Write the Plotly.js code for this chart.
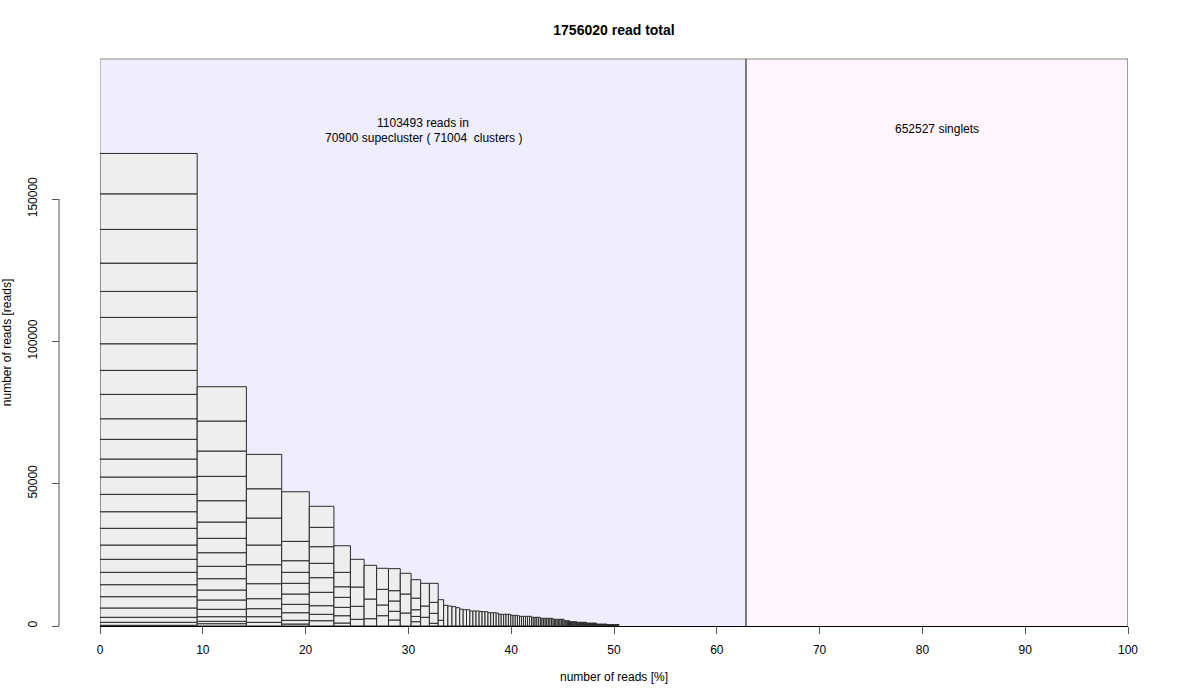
<!DOCTYPE html>
<html><head><meta charset="utf-8">
<script src="https://cdn.plot.ly/plotly-3.0.1.min.js"></script>
<style>html,body{margin:0;padding:0;background:#fff}#chart{width:1200px;height:700px}</style>
</head><body><div id="chart"></div>
<script>
// ---- data ----
const totalReads = 1756020;
const superclusterReads = 1103493;
const singletReads = 652527;
const nSuperclusters = 70900;
const nClusters = 71004;

// cluster sizes (reads) inside the largest superclusters, bottom to top
const sc01 = [250, 1050, 1760, 3270, 3970, 4210, 4350, 4570, 5020, 5870, 5830, 6110, 6080, 6320, 6920, 7230, 8570, 8430, 9340, 9270, 9130, 9940, 11840, 12500, 14190];
const sc02 = [810, 840, 1620, 2600, 3270, 3510, 3970, 4350, 4780, 5060, 5720, 7480, 8570, 8890, 10540, 12050];
const sc03 = [1300, 1970, 2810, 3510, 5270, 6670, 6920, 9480, 10290, 12080];
const sc04 = [700, 1300, 2670, 2950, 3620, 3760, 3860, 4070, 6810, 17420];
const sc05 = [1860, 2250, 3020, 4710, 5130, 5060, 5830, 6810, 7380];
const sc06 = [1050, 2560, 2950, 3510, 3720, 5060, 9340];
const sc07 = [2350, 4570, 6780, 9730];
const sc08 = [2560, 6920, 11840];
const sc09 = [3620, 3760, 5510, 7380];
const sc10 = [2110, 3060, 3620, 3620, 7730];
const sc11 = [4570, 6670, 7270];
const sc12 = [1510, 1860, 2350, 4070, 6480];
const sc13 = [3060, 3970, 7970];
const sc14 = [950, 3510, 3860, 6670];
const sc15 = [2000, 7240];
const largeSuperclusters = [sc01, sc02, sc03, sc04, sc05, sc06, sc07, sc08, sc09, sc10, sc11, sc12, sc13, sc14, sc15];

// smaller superclusters: size level (reads) and how many of that size
const tailLevels = [7270, 7020, 6780, 6430, 5900, 5720, 5270, 5100, 5020, 4670, 4500, 4110, 3760, 3600, 3400, 3060, 2700, 2350, 1860, 1510, 1300, 1050, 700, 460];
const tailCounts = [1,    1,    1,    1,    1,    2,    3,    1,    2,    3,    1,    5,    3,    1,    6,    5,    8,    8,    5,    8,    13,   16,   26,  45];
// very small superclusters (not visible at this scale)
const restLevels = [300, 200, 120, 60];
const restCounts = [150, 250, 500, 1000];

const xTicks = [0, 10, 20, 30, 40, 50, 60, 70, 80, 90, 100];
const yTicks = [0, 50000, 100000, 150000];

// ---- build bar segments ----
let left = 0;
function makeSegs(){ return {x: [], w: [], base: [], y: []}; }
function addSupercluster(segs, clusters){
  const size = clusters.reduce((a, b) => a + b, 0);
  const w = size / totalReads * 100;
  let base = 0;
  clusters.forEach(c => {
    segs.x.push(left + w / 2); segs.w.push(w); segs.base.push(base); segs.y.push(c);
    base += c;
  });
  left += w;
}
const mainSegs = makeSegs();
largeSuperclusters.forEach(c => addSupercluster(mainSegs, c));
tailLevels.forEach((lv, i) => { for (let k = 0; k < tailCounts[i]; k++) addSupercluster(mainSegs, [lv]); });
const restSegs = makeSegs();
restLevels.forEach((lv, i) => { for (let k = 0; k < restCounts[i]; k++) addSupercluster(restSegs, [lv]); });

const superPct = superclusterReads / totalReads * 100;
const FONT = 'Liberation Sans, Arial, Helvetica, sans-serif';

const traces = [
  {type: 'bar', x: mainSegs.x, y: mainSegs.y, base: mainSegs.base, width: mainSegs.w,
   marker: {color: '#EEEEEE', line: {color: '#2a2a2a', width: 1}}, hoverinfo: 'skip', showlegend: false},
  {type: 'bar', x: restSegs.x, y: restSegs.y, base: restSegs.base, width: restSegs.w,
   marker: {color: '#EEEEEE', line: {width: 0}}, hoverinfo: 'skip', showlegend: false}
];

const layout = {
  width: 1200, height: 700,
  margin: {l: 59, r: 72, t: 59, b: 74},
  paper_bgcolor: '#ffffff', plot_bgcolor: '#ffffff',
  font: {family: FONT, size: 12, color: '#000'},
  barmode: 'overlay', bargap: 0,
  showlegend: false,
  title: {text: '<b>' + totalReads + ' read total</b>', font: {family: FONT, size: 14, color: '#000'},
          xref: 'container', yref: 'container', x: 614/1200, y: 1 - 30/700, xanchor: 'center', yanchor: 'middle'},
  xaxis: {domain: [41/1069, 1], range: [0, 100], tickvals: xTicks, ticktext: xTicks.map(String),
          showgrid: false, zeroline: false, showline: true, linecolor: '#000', linewidth: 1,
          ticks: 'outside', ticklen: 7, tickcolor: '#555', tickwidth: 1, ticklabelstandoff: 6,
          tickfont: {family: FONT, size: 12, color: '#000'},
          title: {text: 'number of reads [%]', font: {family: FONT, size: 12, color: '#000'}, standoff: 16}},
  yaxis: {anchor: 'free', position: 0, range: [0, 199200], tickvals: yTicks, ticktext: yTicks.map(String),
          tickangle: -90, showgrid: false, zeroline: false, showline: false,
          ticks: 'outside', ticklen: 7, tickcolor: '#555', tickwidth: 1, ticklabelstandoff: 10,
          tickfont: {family: FONT, size: 12, color: '#000'},
          title: {text: 'number of reads [reads]', font: {family: FONT, size: 12, color: '#000'}, standoff: 14}},
  shapes: [
    {type: 'rect', layer: 'below', xref: 'x', yref: 'paper', x0: 0, x1: superPct, y0: 0, y1: 1,
     fillcolor: '#EEEEFF', line: {width: 0}},
    {type: 'rect', layer: 'below', xref: 'x', yref: 'paper', x0: superPct, x1: 100, y0: 0, y1: 1,
     fillcolor: '#FFF5FF', line: {width: 0}},
    {type: 'line', layer: 'below', xref: 'x', yref: 'paper', x0: 0, x1: 100, y0: 1, y1: 1,
     line: {color: '#888', width: 1}},
    {type: 'line', layer: 'below', xref: 'x', yref: 'paper', x0: 0, x1: 0, y0: 0, y1: 1,
     line: {color: '#888', width: 1}},
    {type: 'line', layer: 'below', xref: 'x', yref: 'paper', x0: 100, x1: 100, y0: 0, y1: 1,
     line: {color: '#444', width: 1}},
    {type: 'line', layer: 'below', xref: 'x', yref: 'paper', x0: superPct, x1: superPct, y0: 0, y1: 1,
     line: {color: '#000', width: 1}},
    {type: 'line', xref: 'paper', yref: 'y', x0: 0, x1: 0, y0: yTicks[0], y1: yTicks[yTicks.length - 1],
     line: {color: '#555', width: 1}}
  ],
  annotations: [
    {xref: 'x', yref: 'paper', x: superPct / 2, y: (626 - 123) / 567, text: superclusterReads + ' reads in',
     showarrow: false, font: {family: FONT, size: 12, color: '#000'}, xanchor: 'center', yanchor: 'middle'},
    {xref: 'x', yref: 'paper', x: superPct / 2, y: (626 - 138) / 567,
     text: nSuperclusters + ' supecluster ( ' + nClusters + '\u00a0 clusters )',
     showarrow: false, font: {family: FONT, size: 12, color: '#000'}, xanchor: 'center', yanchor: 'middle'},
    {xref: 'x', yref: 'paper', x: (superPct + 100) / 2, y: (626 - 129) / 567, text: singletReads + ' singlets',
     showarrow: false, font: {family: FONT, size: 12, color: '#000'}, xanchor: 'center', yanchor: 'middle'}
  ]
};

Plotly.newPlot('chart', traces, layout, {staticPlot: true, displayModeBar: false});
</script>
</body></html>
